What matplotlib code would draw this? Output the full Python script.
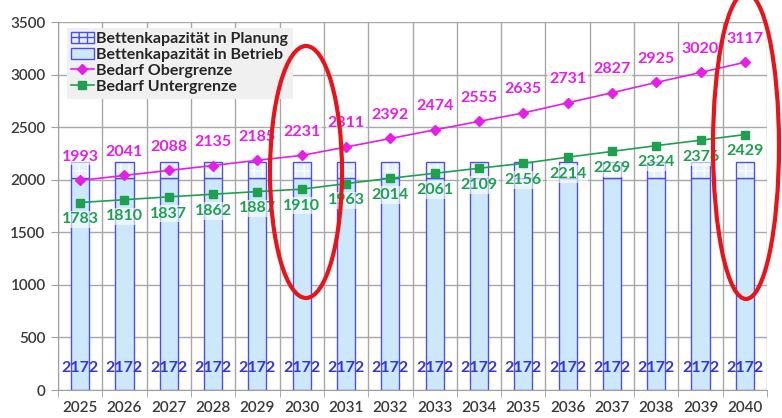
import matplotlib
matplotlib.use("Agg")
import matplotlib.pyplot as plt
from matplotlib.patches import Ellipse, Patch
import numpy as np

plt.rcParams['font.family'] = ['Lato', 'DejaVu Sans']

years = [str(y) for y in range(2025, 2041)]
betrieb = [2020] * 16
planung = [152] * 16
total_label = [2172] * 16
obergrenze = [1993, 2041, 2088, 2135, 2185, 2231, 2311, 2392, 2474, 2555,
              2635, 2731, 2827, 2925, 3020, 3117]
untergrenze = [1783, 1810, 1837, 1862, 1887, 1910, 1963, 2014, 2061, 2109,
               2156, 2214, 2269, 2324, 2376, 2429]

W, H = 782, 418
fig = plt.figure(figsize=(W / 100, H / 100), dpi=100)
ax = fig.add_axes([58 / W, (H - 390) / H, (767 - 58) / W, (390 - 22) / H])

x = np.arange(len(years))
bw = 0.41
blue_edge = '#4F4FE8'
light_blue = '#CDE8FB'

ax.bar(x, betrieb, bw, color=light_blue, edgecolor=blue_edge, linewidth=1.0,
       zorder=2)
ax.bar(x, planung, bw, bottom=betrieb, color='#E3F1FC', edgecolor='white',
       hatch='++', linewidth=0, zorder=2)
ax.bar(x, planung, bw, bottom=betrieb, facecolor='none', edgecolor=blue_edge,
       linewidth=1.0, zorder=2.1)
p_plan = Patch(facecolor='#E3F1FC', edgecolor=blue_edge, hatch='++',
               label='Bettenkapazität in Planung')
p_betr = Patch(facecolor=light_blue, edgecolor=blue_edge,
               label='Bettenkapazität in Betrieb')

mag = '#E61EE6'
grn = '#1FA050'
l1, = ax.plot(x, obergrenze, color=mag, marker='D', markersize=5.5, linewidth=1.2,
              zorder=4, label='Bedarf Obergrenze')
l2, = ax.plot(x, untergrenze, color=grn, marker='s', markersize=5.5, linewidth=1.2,
              zorder=4, label='Bedarf Untergrenze')

for xi, v in zip(x, obergrenze):
    ax.annotate(str(v), (xi, v), xytext=(0, 12), textcoords='offset points',
                ha='center', va='bottom', color=mag, fontsize=11.5,
                fontweight='bold', zorder=5,
                bbox=dict(boxstyle='square,pad=0.1', fc='white', ec='none', alpha=0.6))
for xi, v in zip(x, untergrenze):
    ax.annotate(str(v), (xi, v), xytext=(0, -7), textcoords='offset points',
                ha='center', va='top', color=grn, fontsize=11.5,
                fontweight='bold', zorder=5,
                bbox=dict(boxstyle='square,pad=0.1', fc='white', ec='none', alpha=0.6))
for xi, v in zip(x, total_label):
    ax.text(xi, 210, str(v), ha='center', va='center', color='#3535D8',
            fontsize=11.5, fontweight='bold', zorder=5)

ax.set_xlim(-0.5, len(years) - 0.5)
ax.set_ylim(0, 3500)
ax.set_yticks(np.arange(0, 3501, 500))
ax.set_xticks(x)
ax.set_xticklabels(years)
ax.set_xticks(np.arange(-0.5, len(years), 1), minor=True)
ax.tick_params(axis='x', which='major', length=0, pad=8)
ax.tick_params(axis='x', which='minor', length=5, color='#A0A0A0')
ax.tick_params(axis='y', length=5, color='#A0A0A0', pad=4)
for lab in ax.get_xticklabels() + ax.get_yticklabels():
    lab.set_fontsize(11)
    lab.set_color('#3A3A3A')
    lab.set_fontweight('semibold')

ax.grid(True, axis='y', color='#A8A8A8', linewidth=1.0, zorder=0)
ax.grid(True, axis='x', which='minor', color='#A8A8A8', linewidth=1.0, zorder=0)
ax.set_axisbelow(True)
for s in ['top', 'right']:
    ax.spines[s].set_visible(False)
for s in ['left', 'bottom']:
    ax.spines[s].set_color('#A0A0A0')

leg = ax.legend(handles=[p_plan, p_betr, l1, l2], loc='upper left',
                bbox_to_anchor=(0.012, 0.985), frameon=True, fancybox=False,
                facecolor='#F0F0F0', edgecolor='none', framealpha=1,
                prop=dict(size=11.5, weight='bold'), handlelength=1.4,
                handletextpad=0.15, labelspacing=0.1, borderpad=0.3,
                borderaxespad=0)
for t in leg.get_texts():
    t.set_color('#262626')
leg.set_zorder(6)

# red annotation ellipses (figure pixel coords)
e1 = Ellipse((306 / W, 1 - 172 / H), 72 / W, 252 / H, transform=fig.transFigure,
             fill=False, edgecolor='#E8141A', linewidth=3, zorder=10)
e2 = Ellipse((746 / W, 1 - 146 / H), 66 / W, 306 / H, transform=fig.transFigure,
             fill=False, edgecolor='#E8141A', linewidth=3, zorder=10)
fig.add_artist(e1)
fig.add_artist(e2)

fig.savefig('out.png', dpi=100)
